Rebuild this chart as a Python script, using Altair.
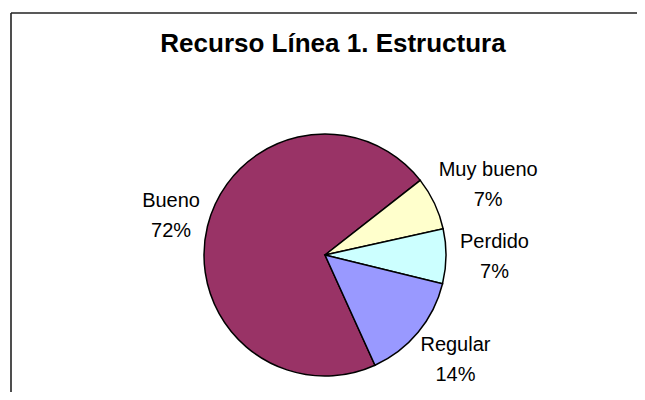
import math
import altair as alt
import pandas as pd

cats = ["Bueno", "Muy bueno", "Perdido", "Regular"]
vals = [71.2, 7.1, 7.3, 14.4]
pcts = ["72%", "7%", "7%", "14%"]
colors = ["#993366", "#FFFFCC", "#CCFFFF", "#9999FF"]

W, H = 626, 379
CX, CY = 314, 242
R = 121
GAP = 10
START = math.radians(155.6)
FONT = "Liberation Sans"

df = pd.DataFrame({"cat": cats, "val": vals, "pct": pcts})
base = alt.Chart(df).transform_window(
    idx="row_number()"
).transform_window(
    cum="sum(val)", frame=[None, 0]
).transform_joinaggregate(
    total="sum(val)"
).transform_calculate(
    mid=f"{START} + 2*PI*(datum.cum - datum.val/2)/datum.total",
    lab="datum.cat + '\\n' + datum.pct",
    hw="length(datum.cat)*0.55*20/2",
).transform_calculate(
    ox=f"sin(datum.mid)*({R} + {GAP} + datum.hw)",
    oy=f"-cos(datum.mid)*({R} + {GAP} + 33)",
).transform_calculate(
    lt="atan2(datum.ox, -datum.oy)",
    lr="sqrt(datum.ox*datum.ox + datum.oy*datum.oy)",
)

theta = alt.Theta("val:Q", stack=True,
                  scale=alt.Scale(range=[START, START + 2 * math.pi]))

pie = base.mark_arc(outerRadius=R, stroke="black", strokeWidth=1.5).encode(
    theta=theta,
    order=alt.Order("idx:Q"),
    color=alt.Color("cat:N", scale=alt.Scale(domain=cats, range=colors), legend=None),
    x=alt.value(CX),
    y=alt.value(CY),
)

labels = base.mark_text(font=FONT, fontSize=20, lineBreak="\n", lineHeight=30,
                        align="center", baseline="middle", dy=-15,
                        color="black").encode(
    theta=alt.Theta("lt:Q", scale=None, stack=False),
    radius=alt.Radius("lr:Q", scale=None),
    text="lab:N",
    x=alt.value(CX),
    y=alt.value(CY),
)

frame_data = alt.Data(values=[{"a": 1}])
top_line = alt.Chart(frame_data).mark_rule(color="#222", strokeWidth=1.6).encode(
    x=alt.value(0), x2=alt.value(W + 10), y=alt.value(0)
)
left_line = alt.Chart(frame_data).mark_rule(color="#222", strokeWidth=1.6).encode(
    x=alt.value(0), y=alt.value(0), y2=alt.value(H + 20)
)

chart = alt.layer(pie, labels, top_line, left_line).properties(
    width=W,
    height=H,
    padding={"left": 3, "top": 5, "right": 0, "bottom": 0},
    autosize=alt.AutoSizeParams(type="none"),
    title=alt.Title("Recurso Línea 1. Estructura", font=FONT, fontSize=26,
                    fontWeight="bold", color="black", anchor="middle",
                    baseline="alphabetic", offset=-27, dy=39, dx=9),
).configure_view(stroke=None)

chart.save("out.html", embed_options={"renderer": "svg", "actions": False})
